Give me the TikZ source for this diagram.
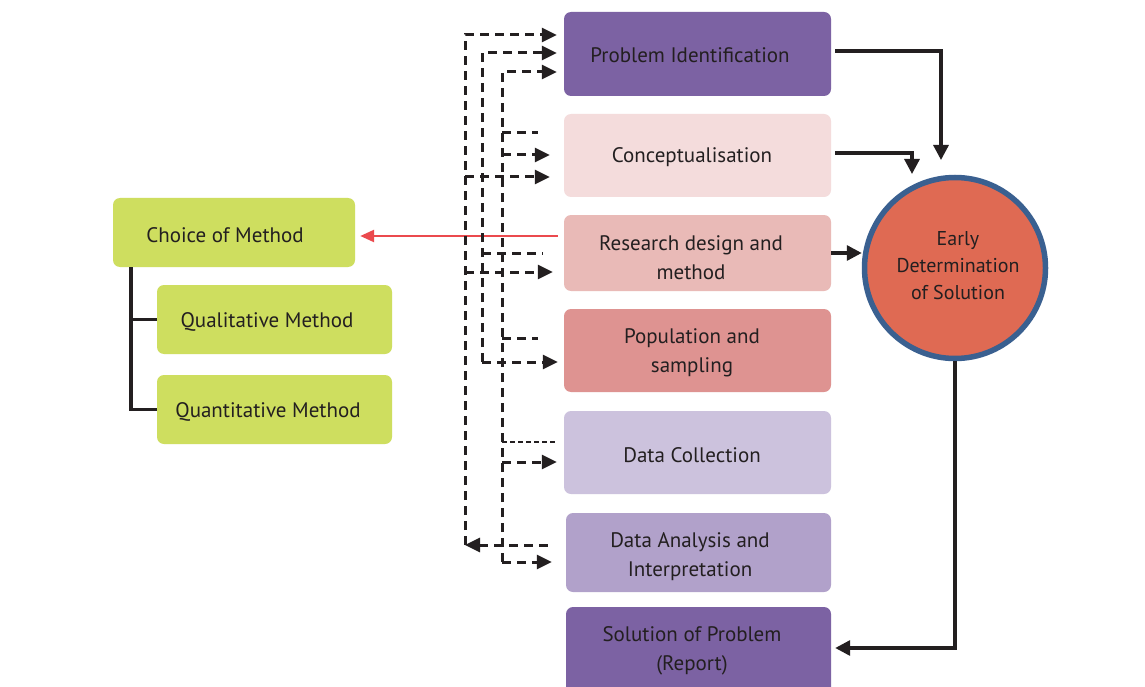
\documentclass[tikz,border=0pt]{standalone}
\usepackage{fontspec}
\setmainfont{PT Sans}
\usetikzlibrary{arrows.meta,calc}
\definecolor{ink}{HTML}{231F20}
\definecolor{cPurple}{HTML}{7C62A3}
\definecolor{cConcept}{HTML}{F4DCDC}
\definecolor{cResearch}{HTML}{E9BAB7}
\definecolor{cPop}{HTML}{DE9391}
\definecolor{cData}{HTML}{CCC2DD}
\definecolor{cAnalysis}{HTML}{B1A1CA}
\definecolor{cGreen}{HTML}{CEDE5F}
\definecolor{cCircle}{HTML}{DF6A53}
\definecolor{cRing}{HTML}{3A6090}
\definecolor{cRed}{HTML}{EB4A4E}
\begin{document}
\begin{tikzpicture}[x=1pt,y=-1pt,
  box/.style={rounded corners=7pt, inner sep=0pt, minimum width=267pt},
  lbl/.style={font=\fontsize{21}{29}\selectfont, text=ink, align=center, inner sep=0pt},
  solidarrow/.style={draw=ink, line width=3.2pt, -{Triangle[length=15pt,width=15pt]}},
  dsh/.style={draw=ink, line width=3pt, dash pattern=on 9pt off 6pt},
  dsha/.style={dsh, -{Triangle[length=15pt,width=14pt]}},
  tree/.style={draw=ink, line width=3.2pt}
]
\useasboundingbox (0,0) rectangle (1145,687);
\fill[white] (0,0) rectangle (1145,687);

% right column boxes
\node[box, fill=cPurple,   minimum height=84pt] (pi)  at (697.5,54) {};
\node[box, fill=cConcept,  minimum height=83pt] (con) at (697.5,155.5) {};
\node[box, fill=cResearch, minimum height=76pt] (rd)  at (697.5,253) {};
\node[box, fill=cPop,      minimum height=83pt] (pop) at (697.5,350.5) {};
\node[box, fill=cData,     minimum height=83pt] (dc)  at (697.5,452.5) {};
\node[box, fill=cAnalysis, minimum height=79pt, minimum width=265pt] (da) at (698.5,552.5) {};
\node[box, fill=cPurple,   minimum height=93pt, minimum width=265pt] (sol) at (698.5,653.5) {};

\node[lbl] (pit)  at (690,55)  {Problem Identification};
\node[lbl] (cont) at (692,157) {Conceptualisation};
\node[lbl] (rdt)  at (691,258) {Research design and\\method};
\node[lbl] (popt) at (692,353) {Population and\\sampling};
\node[lbl] (dct)  at (692,455) {Data Collection};
\node[lbl] (dat)  at (690,557) {Data Analysis and\\Interpretation};
\node[lbl] (solt) at (692,651) {Solution of Problem\\(Report)};

% left boxes
\node[box, fill=cGreen, minimum width=242pt, minimum height=69pt] (com)   at (234,232.5) {};
\node[box, fill=cGreen, minimum width=235pt, minimum height=69pt] (qual)  at (274.5,319.5) {};
\node[box, fill=cGreen, minimum width=235pt, minimum height=69pt] (quant) at (274.5,409.5) {};
\node[lbl] (comt)   at (225,235) {Choice of Method};
\node[lbl] (qualt)  at (267,322) {Qualitative Method};
\node[lbl] (quantt) at (268,412) {Quantitative Method};

% circle
\node[circle, draw=cRing, line width=5.5pt, fill=cCircle, minimum size=181pt, inner sep=0pt] (circ) at (955,268) {};
\node[lbl, font=\fontsize{20}{27}\selectfont] (circt) at (958,266) {Early\\Determination\\of Solution};

% solid connectors
\coordinate (t1) at (941,160);
\coordinate (t2) at (912,174);
\draw[solidarrow] ($(pi.east)+(4,-3)$) -| (t1);
\draw[solidarrow] ($(con.east)+(4,-2.5)$) -| (t2);
\draw[solidarrow] (rd.east) -- (rd.east -| circ.west);
\draw[solidarrow] (circ.south) |- ($(sol.east)+(4,-5.5)$);
\draw[cRed, line width=2.5pt, -{Triangle[length=14pt,width=12pt]}] ($(rd.west)+(-6,-17)$) -- ($(com.east)+(5,3.5)$);

% tree
\coordinate (tr) at (131,267);
\draw[tree] (tr) |- (quant.west);
\draw[tree] (tr |- qual.west) -- (qual.west);

% dashed rails
\coordinate (r1b) at (465,545);
\coordinate (r2b) at (482,362);
\coordinate (r3b) at (502,562);
\draw[dsha] (r1b) |- ($(pi.west)+(-7,-19)$);
\draw[dsha] (r2b) |- ($(pi.west)+(-7,-1)$);
\draw[dsha] (r3b) |- ($(pi.west)+(-7,18)$);

% branches
\draw[dsh]  (502,133) coordinate (b1) -- ($(con.west)+(-26,-22.5)$);
\draw[dsha] (502,155) coordinate (b2) -- ($(con.west)+(-14,-0.5)$);
\draw[dsha] (465,177) coordinate (b3) -- ($(con.west)+(-14,21.5)$);
\draw[dsh]  (482,253) coordinate (b4) -- ($(rd.west)+(-21,0)$);
\draw[dsha] (465,272) coordinate (b5) -- ($(rd.west)+(-11,19)$);
\draw[dsh]  (502,338) coordinate (b6) -- ($(pop.west)+(-26,-12.5)$);
\draw[dsha] (r2b) -- ($(pop.west)+(-6,11.5)$);
\draw[draw=ink, line width=1.6pt, dash pattern=on 5pt off 3pt] (502,442) coordinate (b7) -- ($(dc.west)+(-6,-10.5)$);
\draw[dsha] (502,462) coordinate (b8) -- ($(dc.west)+(-7,9.5)$);
\draw[dsha] ($(da.west)+(-18,-7.5)$) -- (r1b);
\draw[dsha] (r3b) -- ($(da.west)+(-14,9.5)$);
\end{tikzpicture}
\end{document}
